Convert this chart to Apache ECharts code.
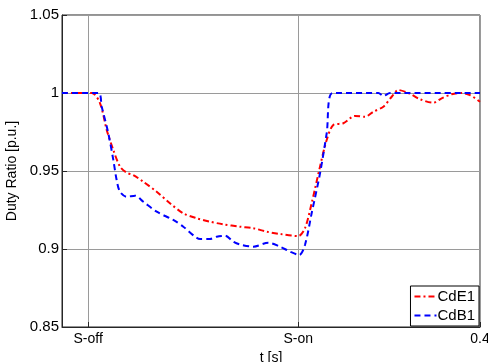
<!DOCTYPE html>
<html>
<head>
<meta charset="utf-8">
<script src="https://cdn.jsdelivr.net/npm/echarts@6/dist/echarts.min.js"></script>
<style>
  html, body { margin: 0; padding: 0; background: #fff; }
  #chart { width: 488px; height: 362px; }
</style>
</head>
<body>
<div id="chart"></div>
<script>
// x tick positions (s) and their labels
const xTickValues = [0.025, 0.226, 0.4]
const xTickLabels = ['S-off', 'S-on', '0.4']

// CdE1 (red dash-dot): [t, duty ratio]
const cde1 = [
  [0, 1.0], [0.0284, 1.0], [0.0364, 0.9934], [0.0428, 0.9763], [0.0491, 0.9635],
  [0.0555, 0.9528], [0.0619, 0.9489], [0.0682, 0.9474], [0.0778, 0.9431], [0.0906, 0.9367],
  [0.1033, 0.9293], [0.1161, 0.9229], [0.1289, 0.9197], [0.1416, 0.9175], [0.1544, 0.9158],
  [0.1703, 0.9143], [0.1831, 0.9133], [0.1959, 0.9111], [0.2086, 0.9096], [0.2261, 0.9083],
  [0.2325, 0.9133], [0.2389, 0.9293], [0.2469, 0.9528], [0.2533, 0.9699], [0.2596, 0.9795],
  [0.2692, 0.9806], [0.2804, 0.9853], [0.29, 0.9848], [0.2979, 0.988], [0.3075, 0.9912],
  [0.3155, 0.9976], [0.3218, 1.0019], [0.3314, 1.0], [0.3426, 0.996], [0.3553, 0.9938],
  [0.3633, 0.9966], [0.3729, 0.9992], [0.3825, 1.0], [0.3904, 0.9987], [0.4, 0.9944]
]

// CdB1 (blue dashed)
const cdb1 = [
  [0, 1.0], [0.0347, 1.0], [0.038, 0.9912], [0.0443, 0.9742], [0.0491, 0.9571],
  [0.0523, 0.9442], [0.0555, 0.9367], [0.0619, 0.9335], [0.0699, 0.9342], [0.0778, 0.9303],
  [0.0906, 0.9239], [0.1065, 0.9186], [0.1161, 0.9143], [0.1273, 0.9079], [0.1321, 0.9064],
  [0.1416, 0.9064], [0.148, 0.9079], [0.156, 0.9085], [0.1639, 0.9047], [0.1703, 0.9029],
  [0.1831, 0.9015], [0.1974, 0.904], [0.2086, 0.9015], [0.2182, 0.8983], [0.2271, 0.8962],
  [0.2325, 0.9026], [0.2389, 0.9229], [0.2469, 0.9485], [0.2533, 0.9742], [0.259, 1.0],
  [0.3027, 1.0], [0.3075, 0.9981], [0.3139, 1.0], [0.4, 1.0]
]

const font = 'Liberation Sans, Arial, sans-serif'
const myChart = echarts.init(document.getElementById('chart'))
myChart.setOption({
  animation: false,
  backgroundColor: '#ffffff',
  grid: {
    left: 62, right: 8, top: 15, bottom: 35,
    outerBoundsMode: 'none',
    containLabel: false,
    show: true, borderColor: '#262626', borderWidth: 1
  },
  legend: {
    data: ['CdE1', 'CdB1'],
    orient: 'vertical',
    right: 9, bottom: 36,
    itemWidth: 22, itemHeight: 10, itemGap: 4,
    padding: [3, 4, 3, 3],
    borderColor: '#000', borderWidth: 1, backgroundColor: '#fff',
    itemStyle: { opacity: 0, borderWidth: 0 },
    textStyle: { fontFamily: font, fontSize: 15, color: '#000', padding: [0, 0, 0, -4] }
  },
  xAxis: {
    type: 'value',
    min: 0, max: 0.4,
    name: 't [s]',
    nameLocation: 'middle',
    nameGap: 16,
    nameTextStyle: { fontFamily: font, fontSize: 14, color: '#000', verticalAlign: 'top' },
    axisLine: { lineStyle: { color: '#262626' } },
    axisTick: { inside: true, length: 5, customValues: xTickValues, lineStyle: { color: '#262626' } },
    axisLabel: {
      customValues: xTickValues,
      fontFamily: font, fontSize: 14, color: '#000', margin: 5,
      formatter: v => {
        const i = xTickValues.findIndex(t => Math.abs(t - v) < 1e-6)
        return i >= 0 ? xTickLabels[i] : ''
      }
    },
    splitLine: { show: true, lineStyle: { color: '#9a9a9a', width: 1 } }
  },
  yAxis: {
    type: 'value',
    min: 0.85, max: 1.05, interval: 0.05,
    name: 'Duty Ratio [p.u.]',
    nameLocation: 'middle',
    nameGap: 41,
    nameTextStyle: { fontFamily: font, fontSize: 14, color: '#000' },
    axisLine: { show: true, lineStyle: { color: '#262626' } },
    axisTick: { show: true, inside: true, length: 5, lineStyle: { color: '#262626' } },
    axisLabel: { fontFamily: font, fontSize: 15, color: '#000', margin: 3 },
    splitLine: { show: true, lineStyle: { color: '#9a9a9a', width: 1 } }
  },
  series: [
    {
      name: 'CdE1',
      type: 'line',
      data: cde1,
      symbol: 'none',
      smooth: 0.3,
      itemStyle: { color: '#ff0000' },
      lineStyle: { color: '#ff0000', width: 2, type: [6, 3, 2, 3] }
    },
    {
      name: 'CdB1',
      type: 'line',
      data: cdb1,
      symbol: 'none',
      smooth: 0.3,
      itemStyle: { color: '#0000ff' },
      lineStyle: { color: '#0000ff', width: 2, type: [6, 4] }
    }
  ]
})
</script>
</body>
</html>
